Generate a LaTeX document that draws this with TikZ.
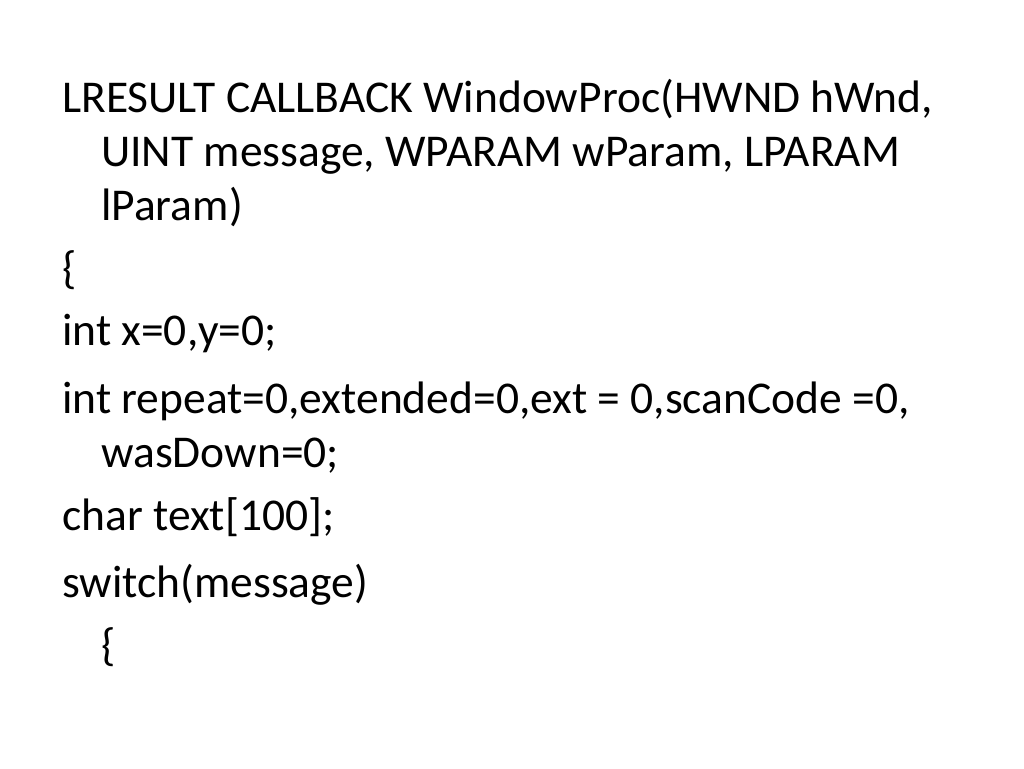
\documentclass[tikz,border=0pt]{standalone}
\usepackage{fontspec}
\setmainfont{Carlito}
\begin{document}
\begin{tikzpicture}[x=1pt,y=-1pt,
	codeline/.style={anchor=base west,inner sep=0pt,font=\fontsize{45.5}{54}\selectfont}]
		\useasboundingbox (0,0) rectangle (1024,768);

		\node[codeline] (sig1) at (62,112) {LRESULT CALLBACK WindowProc(HWND hWnd,};
		\node[codeline] (sig2) at (101,166) {UINT message, WPARAM wParam, LPARAM};
		\node[codeline] (sig3) at (101,220) {lParam)};

		\node[codeline] (open) at (62,283) {\{};

		\node[codeline] (decxy) at (62,345) {int x=0,y=0;};
		\node[codeline] (decrep1) at (62,413) {int repeat=0,extended=0,ext = 0,scanCode =0,};
		\node[codeline] (decrep2) at (101,467) {wasDown=0;};
		\node[codeline] (dectext) at (62,530) {char text[100];};

		\node[codeline] (switch) at (62,597) {switch(message)};
		\node[codeline] (swopen) at (101,660) {\{};
\end{tikzpicture}
\end{document}
